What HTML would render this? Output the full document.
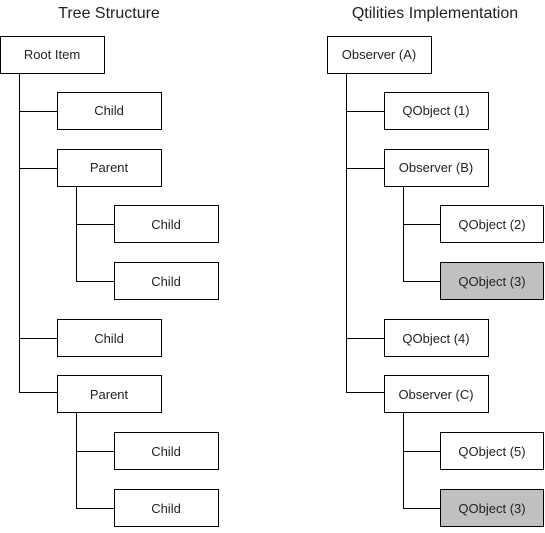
<!DOCTYPE html>
<html><head><style>html,body{margin:0;padding:0;background:#fff}</style></head>
<body>
<svg width="545" height="528" xmlns="http://www.w3.org/2000/svg" font-family="Liberation Sans, Arial, sans-serif">
<g fill="none" stroke="#000" stroke-width="1">
<path d="M19.5 73V392.5H57M19.5 111.5H57M19.5 168.5H57M19.5 338.5H57"/>
<path d="M76.5 187V281.5H114M76.5 224.5H114"/>
<path d="M76.5 413V508.5H114M76.5 451.5H114"/>
<path d="M346.5 73V392.5H384M346.5 111.5H384M346.5 168.5H384M346.5 338.5H384"/>
<path d="M403.5 187V281.5H441M403.5 224.5H441"/>
<path d="M403.5 413V508.5H441M403.5 451.5H441"/>
</g>
<g stroke="#000" stroke-width="1" fill="#fff">
<rect x="0.5" y="36.5" width="104" height="37"/>
<rect x="57.5" y="92.5" width="104" height="37"/>
<rect x="57.5" y="149.5" width="104" height="37"/>
<rect x="114.5" y="205.5" width="104" height="37"/>
<rect x="114.5" y="262.5" width="104" height="37"/>
<rect x="57.5" y="319.5" width="104" height="37"/>
<rect x="57.5" y="375.5" width="104" height="37"/>
<rect x="114.5" y="432.5" width="104" height="37"/>
<rect x="114.5" y="489.5" width="104" height="37"/>
<rect x="327.5" y="36.5" width="104" height="37"/>
<rect x="384.5" y="92.5" width="104" height="37"/>
<rect x="384.5" y="149.5" width="104" height="37"/>
<rect x="440.5" y="205.5" width="103" height="37"/>
<rect x="440.5" y="262.5" width="103" height="37" fill="#c0c0c0"/>
<rect x="384.5" y="319.5" width="104" height="37"/>
<rect x="384.5" y="375.5" width="104" height="37"/>
<rect x="440.5" y="432.5" width="103" height="37"/>
<rect x="440.5" y="489.5" width="103" height="37" fill="#c0c0c0"/>
</g>
<g font-size="16" fill="#222" text-anchor="middle">
<text x="109" y="18">Tree Structure</text>
<text x="435" y="18">Qtilities Implementation</text>
</g>
<g font-size="13" fill="#222" text-anchor="middle">
<text x="52" y="59">Root Item</text>
<text x="109" y="115">Child</text>
<text x="109" y="172">Parent</text>
<text x="166" y="229">Child</text>
<text x="166" y="286">Child</text>
<text x="109" y="343">Child</text>
<text x="109" y="399">Parent</text>
<text x="166" y="456">Child</text>
<text x="166" y="513">Child</text>
<text x="379" y="59">Observer (A)</text>
<text x="436" y="115">QObject (1)</text>
<text x="436" y="172">Observer (B)</text>
<text x="492" y="229">QObject (2)</text>
<text x="492" y="286">QObject (3)</text>
<text x="436" y="343">QObject (4)</text>
<text x="436" y="399">Observer (C)</text>
<text x="492" y="456">QObject (5)</text>
<text x="492" y="513">QObject (3)</text>
</g>
</svg>
</body></html>
